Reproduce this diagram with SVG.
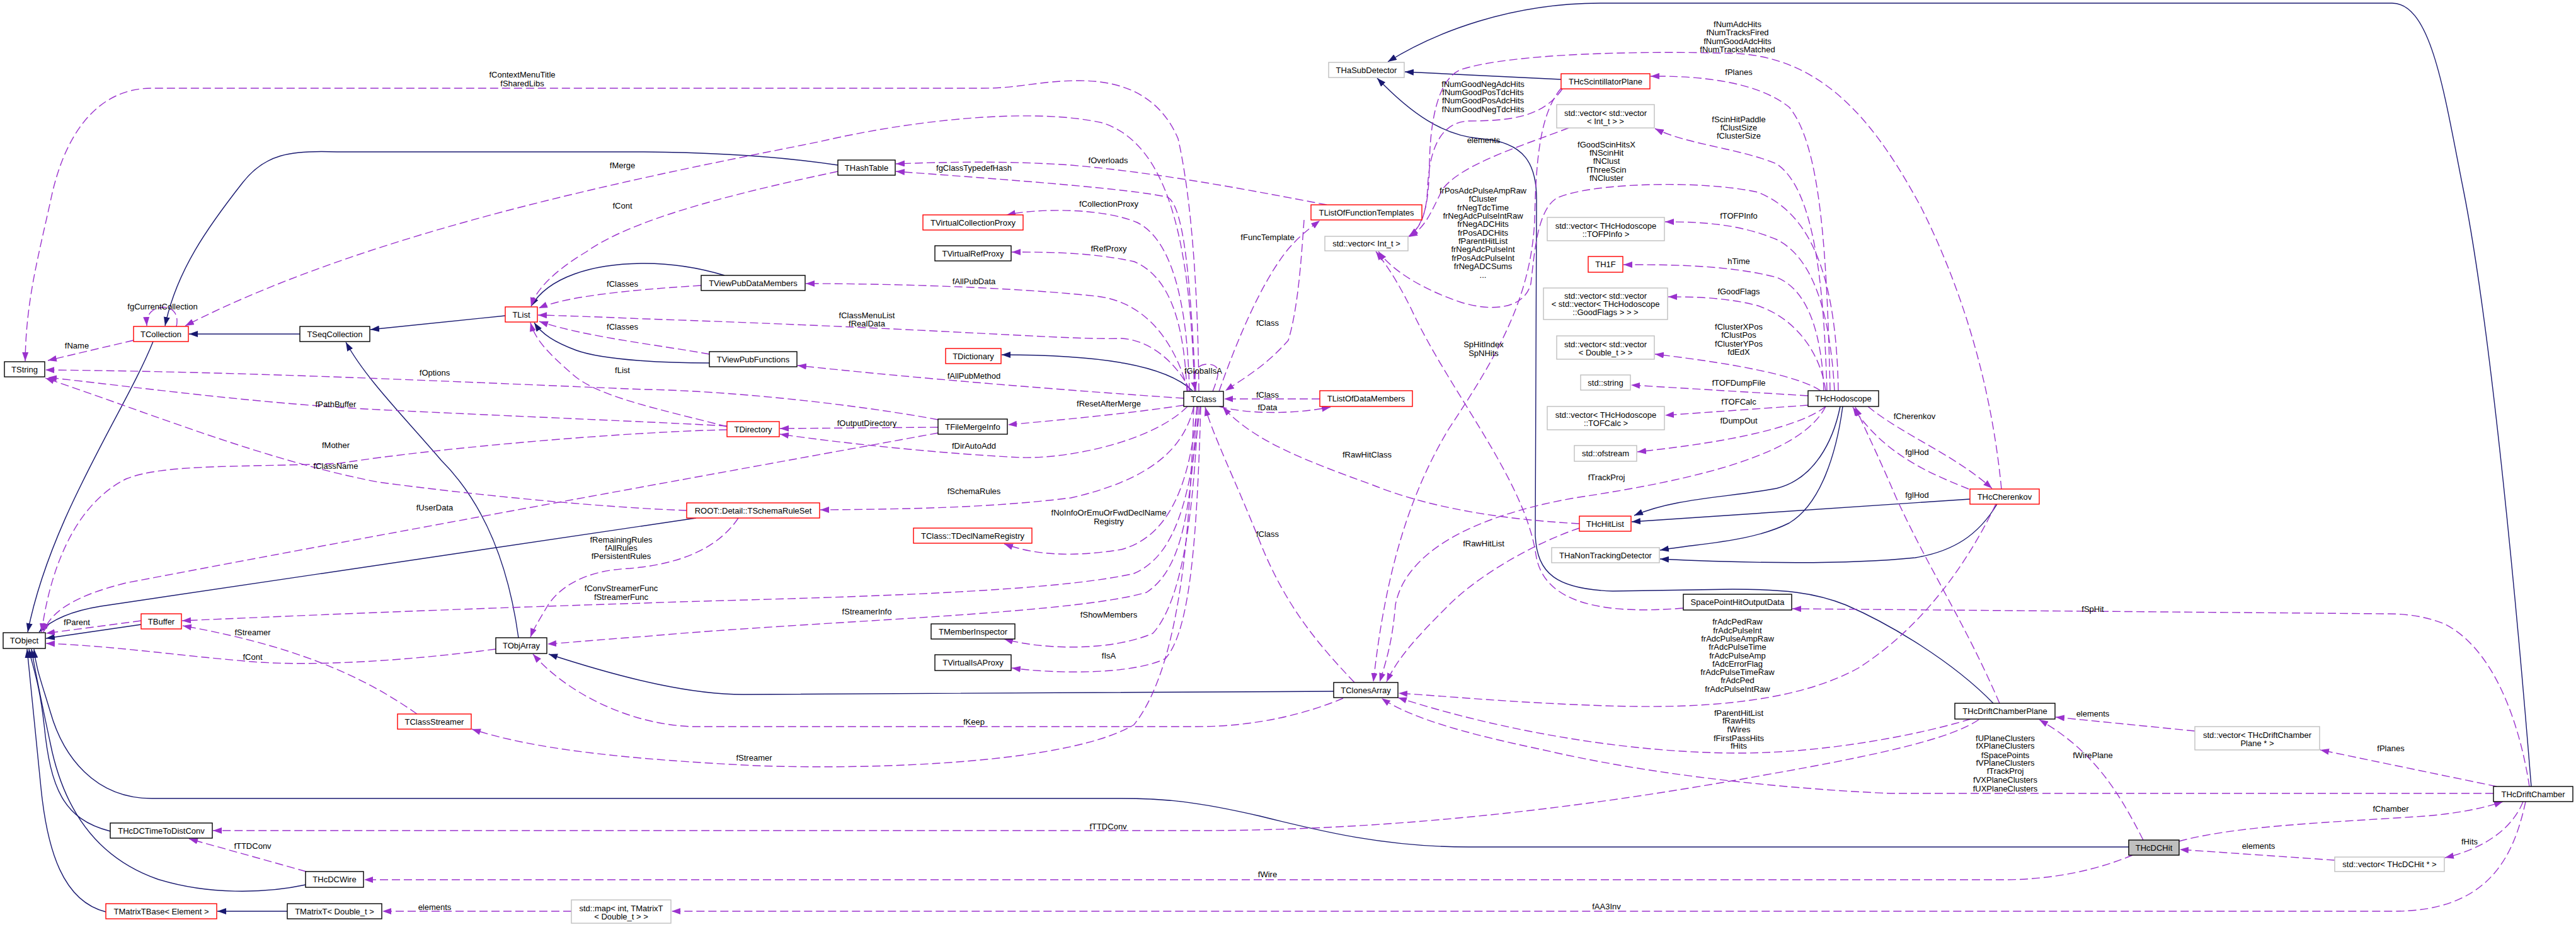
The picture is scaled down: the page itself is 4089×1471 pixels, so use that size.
<svg xmlns="http://www.w3.org/2000/svg" width="4089" height="1471" viewBox="0 0 4089 1471">
<defs>
<marker id="ap" viewBox="0 0 14 10" refX="14" refY="5" markerWidth="14" markerHeight="10" markerUnits="userSpaceOnUse" orient="auto"><path d="M0,0 L14,5 L0,10 z" fill="#9a32cd" stroke="none"/></marker>
<marker id="ab" viewBox="0 0 14 10" refX="14" refY="5" markerWidth="14" markerHeight="10" markerUnits="userSpaceOnUse" orient="auto"><path d="M0,0 L14,5 L0,10 z" fill="#191970" stroke="none"/></marker>
<style>
text{font-family:"Liberation Sans",Arial,Helvetica,sans-serif;font-size:13px;fill:#000;text-anchor:middle}
rect{stroke-width:1.4}
.k{fill:#fff;stroke:#000}
.r{fill:#fff;stroke:#ff0000}
.g{fill:#fff;stroke:#bfbfbf}
.s{fill:#bfbfbf;stroke:#000}
.u{fill:none;stroke:#9a32cd;stroke-width:1.4;stroke-dasharray:13,6;marker-end:url(#ap)}
.h{fill:none;stroke:#191970;stroke-width:1.4;marker-end:url(#ab)}
</style>
</defs>
<rect x="0" y="0" width="4089" height="1471" fill="#fff"/>
<g id="connectors">
<path class="h" d="M243,542 C200,650 80,820 44,1003"/>
<path class="h" d="M1330,262 C1250,250 1150,242 1022,241 L535,241 C460,238 420,245 385,290 C330,360 280,430 262,517"/>
<path class="h" d="M476,530 L300,530"/>
<path class="h" d="M802,501 L588,523"/>
<path class="h" d="M1150,437 C1100,422 1060,418 1023,418 C940,418 870,440 843,486"/>
<path class="h" d="M1126,576 C1060,576 960,572 915,556 C880,543 860,530 848,512"/>
<path class="h" d="M823,1012 C805,880 760,790 700,730 C640,660 580,600 549,543"/>
<path class="h" d="M224,991 L73,1013"/>
<path class="h" d="M1105,822 L160,962 C110,970 80,985 62,1003"/>
<path class="h" d="M2117,1097 L1180,1102 C1100,1102 1000,1080 871,1038"/>
<path class="h" d="M1893,620 C1850,580 1750,563 1590,563"/>
<path class="h" d="M175,1319 C100,1300 80,1250 70,1150 C62,1080 52,1060 46,1030"/>
<path class="h" d="M485,1404 C420,1418 330,1420 250,1395 C150,1360 100,1280 80,1180 C65,1110 55,1060 50,1030"/>
<path class="h" d="M168,1447 C100,1430 75,1350 65,1250 C55,1150 48,1080 43,1030"/>
<path class="h" d="M456,1446 L345,1446"/>
<path class="h" d="M3379,1344 L2331,1344 C2200,1344 2100,1320 2000,1295 C1900,1272 1850,1267 1779,1267 L241,1267 C150,1267 100,1200 80,1130 C65,1080 57,1060 54,1030"/>
<path class="h" d="M2921,645 C2910,700 2880,760 2820,775 C2740,790 2660,790 2594,818"/>
<path class="h" d="M2925,645 C2915,720 2890,800 2840,830 C2780,860 2700,862 2635,873"/>
<path class="h" d="M3127,792 L2590,828"/>
<path class="h" d="M3170,800 C3140,850 3100,875 3040,885 C2920,897 2760,893 2635,887"/>
<path class="h" d="M2478,126 L2230,114"/>
<path class="h" d="M3164,1116 C3100,1050 3000,990 2930,960 C2880,940 2830,935 2750,935 L2560,938 C2470,935 2440,910 2437,850 L2439,320 C2440,260 2420,225 2350,220 C2290,215 2240,180 2186,124"/>
<path class="h" d="M4018,1248 C3990,900 3950,500 3910,300 C3880,150 3860,5 3797,5 L2540,5 C2400,5 2280,50 2203,98"/>

<path class="u" d="M212,540 L76,572"/>
<path class="u" d="M1903,621 C1902,500 1895,330 1870,220 C1840,150 1780,128 1713,128 C1650,128 1620,140 1560,140 L241,140 C150,140 100,220 80,320 C60,410 41,480 40,573"/>
<path class="u" d="M1489,666 C1350,640 1150,620 1023,618 C700,605 400,590 72,587"/>
<path class="u" d="M1154,676 C1050,670 800,660 600,650 C400,640 200,612 76,599"/>
<path class="u" d="M1090,810 C950,805 750,785 600,765 C420,730 250,660 72,600"/>
<path class="u" d="M1154,682 C1000,685 700,710 540,735 C400,742 260,735 200,760 C120,800 80,900 66,1003"/>
<path class="u" d="M1489,687 C1200,740 700,830 200,925 C120,945 80,970 69,1003"/>
<path class="u" d="M1172,822 C1140,870 1080,895 1000,902 C930,905 890,930 870,960 C855,985 846,1000 842,1011"/>
<path class="u" d="M1905,645 C1890,780 1870,880 1800,910 C1650,945 1200,950 1023,957 C700,967 450,978 289,985"/>
<path class="u" d="M1900,645 C1890,800 1880,900 1820,940 C1700,975 1300,985 1023,1010 C950,1015 900,1020 869,1022"/>
<path class="u" d="M787,1030 C650,1048 500,1058 400,1050 C280,1040 180,1025 73,1021"/>
<path class="u" d="M662,1133 C600,1090 500,1030 290,993"/>
<path class="u" d="M224,985 L73,1005"/>
<path class="u" d="M1895,645 C1890,800 1880,1050 1800,1150 C1700,1210 1400,1222 1200,1215 C1000,1205 850,1190 749,1157"/>
<path class="u" d="M2132,1108 C2080,1130 2000,1153 1900,1153 L1100,1153 C1000,1150 900,1100 846,1038"/>
<path class="u" d="M486,1383 L300,1331"/>
<path class="u" d="M3141,1142 C3100,1170 3000,1195 2800,1230 C2500,1285 2200,1318 1900,1318 L338,1318"/>
<path class="u" d="M3385,1357 C3330,1380 3260,1396 3180,1396 L578,1396"/>
<path class="u" d="M4009,1272 C3990,1360 3950,1446 3800,1446 L1066,1446"/>
<path class="u" d="M907,1446 L607,1446"/>
<path class="u" d="M1935,621 C1960,550 2000,450 2045,395 C2065,372 2082,360 2095,350"/>
<path class="u" d="M2070,349 C2065,420 2060,490 2045,540 C2010,580 1975,600 1945,620"/>
<path class="u" d="M2106,325 C2000,305 1850,275 1700,262 C1600,255 1500,257 1422,260"/>
<path class="u" d="M1898,621 C1890,450 1880,330 1854,313 C1800,300 1600,285 1422,272"/>
<path class="u" d="M1896,621 C1890,400 1860,230 1750,195 C1640,170 1450,190 1300,225 C1050,275 600,360 294,517"/>
<path class="u" d="M1330,272 C1150,310 1000,350 930,400 C880,430 850,460 843,486"/>
<path class="u" d="M280,518 C285,495 270,485 255,488 C240,490 232,500 233,517"/>
<path class="u" d="M1113,453 C1000,460 900,470 855,489"/>
<path class="u" d="M1126,562 C1050,548 930,535 856,510"/>
<path class="u" d="M1890,621 C1870,580 1830,540 1780,537 C1700,540 1500,522 1023,506 C950,503 900,501 854,500"/>
<path class="u" d="M1154,677 C1050,650 950,630 910,595 C870,560 850,540 842,512"/>
<path class="u" d="M1886,621 C1870,560 1830,480 1740,470 C1600,455 1400,450 1279,450"/>
<path class="u" d="M1879,632 C1700,620 1450,600 1266,580"/>
<path class="u" d="M1888,621 C1885,480 1860,380 1805,353 C1750,330 1650,330 1598,341"/>
<path class="u" d="M1884,621 C1880,520 1860,440 1800,415 C1730,400 1660,400 1606,400"/>
<path class="u" d="M1879,643 C1800,655 1700,665 1600,674"/>
<path class="u" d="M1489,678 L1238,680"/>
<path class="u" d="M1885,645 C1830,700 1700,728 1620,726 C1500,720 1350,705 1238,689"/>
<path class="u" d="M1895,645 C1880,710 1830,760 1700,790 C1580,805 1450,808 1302,809"/>
<path class="u" d="M1900,645 C1890,760 1860,850 1780,872 C1700,885 1640,880 1594,863"/>
<path class="u" d="M1902,645 C1895,800 1880,950 1830,1005 C1760,1035 1650,1030 1594,1014"/>
<path class="u" d="M1906,645 C1900,850 1890,1000 1850,1045 C1800,1070 1680,1070 1606,1060"/>
<path class="u" d="M1925,621 C1935,595 1940,578 1916,578 C1895,578 1894,600 1898,620"/>
<path class="u" d="M2095,633 L1943,633"/>
<path class="u" d="M1935,645 C1980,657 2050,658 2112,646"/>
<path class="u" d="M2150,1083 C2090,1020 2040,960 2000,860 C1960,760 1925,690 1913,646"/>
<path class="u" d="M2507,831 C2400,825 2280,810 2180,770 C2070,730 1990,700 1941,646"/>
<path class="u" d="M2507,838 C2440,860 2350,910 2300,960 C2260,1000 2220,1040 2201,1082"/>
<path class="u" d="M2898,645 C2860,720 2700,760 2500,790 C2330,820 2230,880 2215,960 C2210,1020 2200,1050 2190,1082"/>
<path class="u" d="M2478,140 C2445,180 2438,250 2436,350 C2430,470 2380,560 2300,680 C2240,780 2200,900 2180,1082"/>
<path class="u" d="M2480,141 C2450,185 2400,192 2330,192 C2280,195 2268,250 2266,300 C2264,340 2255,362 2236,375"/>
<path class="u" d="M3177,776 C3160,600 3110,450 3050,330 C2980,200 2900,95 2760,85 C2600,80 2400,85 2320,110 C2280,125 2270,200 2269,260 C2268,320 2262,355 2237,375"/>
<path class="u" d="M2490,203 C2420,230 2320,260 2290,300 C2270,340 2262,362 2236,376"/>
<path class="u" d="M2918,620 C2915,450 2880,340 2790,305 C2700,285 2520,290 2470,315 C2440,335 2436,400 2430,450 C2420,490 2370,495 2320,480 C2260,460 2210,430 2188,399"/>
<path class="u" d="M2672,965 C2550,975 2450,960 2438,880 C2420,760 2300,620 2240,490 C2215,440 2200,420 2184,399"/>
<path class="u" d="M4015,1248 C4000,1150 3960,1030 3880,990 C3850,978 3820,974 3790,974 L2845,966"/>
<path class="u" d="M2905,620 C2900,400 2890,230 2840,170 C2790,130 2700,120 2620,121"/>
<path class="u" d="M2900,620 C2895,450 2880,300 2820,260 C2760,235 2680,230 2627,204"/>
<path class="u" d="M2912,620 C2905,500 2880,410 2820,380 C2760,355 2700,352 2643,352"/>
<path class="u" d="M2895,620 C2892,530 2870,460 2820,440 C2740,420 2650,420 2577,420"/>
<path class="u" d="M2898,620 C2890,560 2850,505 2790,485 C2740,472 2690,471 2648,471"/>
<path class="u" d="M2890,620 C2860,600 2780,580 2627,562"/>
<path class="u" d="M2870,628 L2589,611"/>
<path class="u" d="M2870,643 L2643,659"/>
<path class="u" d="M2898,645 C2860,675 2760,700 2599,717"/>
<path class="u" d="M3125,776 C3060,750 2990,720 2941,646"/>
<path class="u" d="M2965,645 C3020,690 3100,720 3162,775"/>
<path class="u" d="M3174,1116 C3120,990 3060,900 3010,790 C2980,720 2960,680 2945,646"/>
<path class="u" d="M3168,800 C3130,880 3060,990 2950,1060 C2850,1115 2700,1125 2550,1120 C2400,1115 2300,1105 2220,1100"/>
<path class="u" d="M3128,1141 C3050,1165 2900,1195 2760,1195 C2600,1195 2400,1165 2219,1107"/>
<path class="u" d="M3958,1259 L3000,1259 C2800,1250 2600,1225 2450,1190 C2330,1165 2240,1140 2193,1108"/>
<path class="u" d="M3963,1248 L3683,1190"/>
<path class="u" d="M3484,1160 L3263,1138"/>
<path class="u" d="M3402,1333 C3360,1250 3320,1190 3237,1142"/>
<path class="u" d="M3459,1335 C3550,1310 3700,1305 3850,1295 C3910,1290 3950,1280 3973,1272"/>
<path class="u" d="M3706,1365 L3460,1348"/>
<path class="u" d="M4005,1272 C3990,1310 3950,1345 3881,1361"/>

<text x="122" y="553">fName</text>
<text x="829" y="123">fContextMenuTitle</text>
<text x="829" y="137">fSharedLibs</text>
<text x="690" y="596">fOptions</text>
<text x="533" y="646">fPathBuffer</text>
<text x="533" y="711">fMother</text>
<text x="533" y="744">fClassName</text>
<text x="690" y="810">fUserData</text>
<text x="986" y="861">fRemainingRules</text>
<text x="986" y="874">fAllRules</text>
<text x="986" y="887">fPersistentRules</text>
<text x="986" y="938">fConvStreamerFunc</text>
<text x="986" y="952">fStreamerFunc</text>
<text x="988" y="592">fList</text>
<text x="988" y="523">fClasses</text>
<text x="988" y="267">fMerge</text>
<text x="988" y="331">fCont</text>
<text x="988" y="455">fClasses</text>
<text x="258" y="491">fgCurrentCollection</text>
<text x="1759" y="259">fOverloads</text>
<text x="1546" y="271">fgClassTypedefHash</text>
<text x="1760" y="328">fCollectionProxy</text>
<text x="1760" y="399">fRefProxy</text>
<text x="1546" y="451">fAllPubData</text>
<text x="2012" y="381">fFuncTemplate</text>
<text x="1376" y="505">fClassMenuList</text>
<text x="1376" y="518">fRealData</text>
<text x="2012" y="517">fClass</text>
<text x="1910" y="593">fGlobalIsA</text>
<text x="1546" y="601">fAllPubMethod</text>
<text x="2012" y="631">fClass</text>
<text x="2012" y="651">fData</text>
<text x="1760" y="645">fResetAfterMerge</text>
<text x="1376" y="676">fOutputDirectory</text>
<text x="1546" y="712">fDirAutoAdd</text>
<text x="1546" y="784">fSchemaRules</text>
<text x="1760" y="818">fNoInfoOrEmuOrFwdDeclName</text>
<text x="1760" y="832">Registry</text>
<text x="2012" y="852">fClass</text>
<text x="1376" y="975">fStreamerInfo</text>
<text x="1760" y="980">fShowMembers</text>
<text x="1760" y="1045">fIsA</text>
<text x="1546" y="1150">fKeep</text>
<text x="1197" y="1207">fStreamer</text>
<text x="1759" y="1316">fTTDConv</text>
<text x="2012" y="1392">fWire</text>
<text x="122" y="992">fParent</text>
<text x="401" y="1008">fStreamer</text>
<text x="401" y="1047">fCont</text>
<text x="401" y="1347">fTTDConv</text>
<text x="690" y="1444">elements</text>
<text x="2550" y="1443">fAA3Inv</text>
<text x="2758" y="43">fNumAdcHits</text>
<text x="2758" y="56">fNumTracksFired</text>
<text x="2758" y="70">fNumGoodAdcHits</text>
<text x="2758" y="83">fNumTracksMatched</text>
<text x="2760" y="119">fPlanes</text>
<text x="2354" y="138">fNumGoodNegAdcHits</text>
<text x="2354" y="151">fNumGoodPosTdcHits</text>
<text x="2354" y="164">fNumGoodPosAdcHits</text>
<text x="2354" y="178">fNumGoodNegTdcHits</text>
<text x="2355" y="227">elements</text>
<text x="2760" y="194">fScinHitPaddle</text>
<text x="2760" y="207">fClustSize</text>
<text x="2760" y="220">fClusterSize</text>
<text x="2550" y="234">fGoodScinHitsX</text>
<text x="2550" y="247">fNScinHit</text>
<text x="2550" y="260">fNClust</text>
<text x="2550" y="274">fThreeScin</text>
<text x="2550" y="287">fNCluster</text>
<text x="2354" y="307">frPosAdcPulseAmpRaw</text>
<text x="2354" y="320">fCluster</text>
<text x="2354" y="334">frNegTdcTime</text>
<text x="2354" y="347">frNegAdcPulseIntRaw</text>
<text x="2354" y="360">frNegADCHits</text>
<text x="2354" y="374">frPosADCHits</text>
<text x="2354" y="387">fParentHitList</text>
<text x="2354" y="400">frNegAdcPulseInt</text>
<text x="2354" y="414">frPosAdcPulseInt</text>
<text x="2354" y="427">frNegADCSums</text>
<text x="2354" y="441">...</text>
<text x="2760" y="347">fTOFPInfo</text>
<text x="2760" y="419">hTime</text>
<text x="2760" y="467">fGoodFlags</text>
<text x="2760" y="523">fClusterXPos</text>
<text x="2760" y="536">fClustPos</text>
<text x="2760" y="550">fClusterYPos</text>
<text x="2760" y="563">fdEdX</text>
<text x="2760" y="612">fTOFDumpFile</text>
<text x="2760" y="642">fTOFCalc</text>
<text x="2760" y="672">fDumpOut</text>
<text x="3039" y="665">fCherenkov</text>
<text x="3043" y="722">fglHod</text>
<text x="3043" y="790">fglHod</text>
<text x="2170" y="726">fRawHitClass</text>
<text x="2550" y="762">fTrackProj</text>
<text x="2355" y="551">SpHitIndex</text>
<text x="2355" y="565">SpNHits</text>
<text x="2355" y="867">fRawHitList</text>
<text x="3322" y="971">fSpHit</text>
<text x="2758" y="991">frAdcPedRaw</text>
<text x="2758" y="1005">frAdcPulseInt</text>
<text x="2758" y="1018">frAdcPulseAmpRaw</text>
<text x="2758" y="1031">frAdcPulseTime</text>
<text x="2758" y="1045">frAdcPulseAmp</text>
<text x="2758" y="1058">fAdcErrorFlag</text>
<text x="2758" y="1071">frAdcPulseTimeRaw</text>
<text x="2758" y="1084">frAdcPed</text>
<text x="2758" y="1098">frAdcPulseIntRaw</text>
<text x="2760" y="1136">fParentHitList</text>
<text x="2760" y="1148">fRawHits</text>
<text x="2760" y="1162">fWires</text>
<text x="2760" y="1176">fFirstPassHits</text>
<text x="2760" y="1188">fHits</text>
<text x="3322" y="1137">elements</text>
<text x="3183" y="1176">fUPlaneClusters</text>
<text x="3183" y="1188">fXPlaneClusters</text>
<text x="3183" y="1203">fSpacePoints</text>
<text x="3183" y="1215">fVPlaneClusters</text>
<text x="3183" y="1228">fTrackProj</text>
<text x="3183" y="1242">fVXPlaneClusters</text>
<text x="3183" y="1256">fUXPlaneClusters</text>
<text x="3322" y="1203">fWirePlane</text>
<text x="3795" y="1192">fPlanes</text>
<text x="3795" y="1288">fChamber</text>
<text x="3585" y="1347">elements</text>
<text x="3920" y="1340">fHits</text>
</g>

<g id="n-TString"><rect class="k" x="7" y="574" width="64" height="24"/><text x="39" y="590.5">TString</text></g>
<g id="n-TCollection"><rect class="r" x="212" y="518" width="87" height="24"/><text x="255.5" y="534.5">TCollection</text></g>
<g id="n-TSeqCollection"><rect class="k" x="476" y="518" width="111" height="24"/><text x="531.5" y="534.5">TSeqCollection</text></g>
<g id="n-TList"><rect class="r" x="802" y="487" width="51" height="24"/><text x="827.5" y="503.5">TList</text></g>
<g id="n-TObject"><rect class="k" x="5" y="1004" width="67" height="25"/><text x="38.5" y="1021">TObject</text></g>
<g id="n-TBuffer"><rect class="r" x="224" y="974" width="64" height="24"/><text x="256" y="990.5">TBuffer</text></g>
<g id="n-TObjArray"><rect class="k" x="787" y="1012" width="81" height="25"/><text x="827.5" y="1029">TObjArray</text></g>
<g id="n-TClassStreamer"><rect class="r" x="631" y="1133" width="117" height="24"/><text x="689.5" y="1149.5">TClassStreamer</text></g>
<g id="n-THcDCTimeToDistConv"><rect class="k" x="175" y="1306" width="162" height="24"/><text x="256" y="1322.5">THcDCTimeToDistConv</text></g>
<g id="n-THcDCWire"><rect class="k" x="485" y="1383" width="92" height="25"/><text x="531" y="1400">THcDCWire</text></g>
<g id="n-TMatrixTBase"><rect class="r" x="168" y="1434" width="176" height="24"/><text x="256" y="1450.5">TMatrixTBase&lt; Element &gt;</text></g>
<g id="n-TMatrixT"><rect class="k" x="456" y="1434" width="150" height="24"/><text x="531" y="1450.5">TMatrixT&lt; Double_t &gt;</text></g>
<g id="n-stdmap"><rect class="g" x="907" y="1428" width="158" height="37"/><text x="986" y="1445.5">std::map&lt; int, TMatrixT</text><text x="986" y="1458.8">&lt; Double_t &gt; &gt;</text></g>
<g id="n-THashTable"><rect class="k" x="1330" y="254" width="91" height="24"/><text x="1375.5" y="270.5">THashTable</text></g>
<g id="n-TVirtualCollectionProxy"><rect class="r" x="1465" y="341" width="159" height="24"/><text x="1544.5" y="357.5">TVirtualCollectionProxy</text></g>
<g id="n-TVirtualRefProxy"><rect class="k" x="1484" y="390" width="121" height="24"/><text x="1544.5" y="406.5">TVirtualRefProxy</text></g>
<g id="n-TViewPubDataMembers"><rect class="k" x="1113" y="437" width="165" height="24"/><text x="1195.5" y="453.5">TViewPubDataMembers</text></g>
<g id="n-TViewPubFunctions"><rect class="k" x="1126" y="558" width="139" height="24"/><text x="1195.5" y="574.5">TViewPubFunctions</text></g>
<g id="n-TDictionary"><rect class="r" x="1501" y="553" width="88" height="24"/><text x="1545" y="569.5">TDictionary</text></g>
<g id="n-TClass"><rect class="k" x="1879" y="621" width="63" height="24"/><text x="1910.5" y="637.5">TClass</text></g>
<g id="n-TDirectory"><rect class="r" x="1154" y="669" width="83" height="24"/><text x="1195.5" y="685.5">TDirectory</text></g>
<g id="n-TFileMergeInfo"><rect class="k" x="1489" y="665" width="110" height="24"/><text x="1544" y="681.5">TFileMergeInfo</text></g>
<g id="n-TSchemaRuleSet"><rect class="r" x="1090" y="798" width="211" height="24"/><text x="1195.5" y="814.5">ROOT::Detail::TSchemaRuleSet</text></g>
<g id="n-TDeclNameRegistry"><rect class="r" x="1450" y="838" width="188" height="24"/><text x="1544" y="854.5">TClass::TDeclNameRegistry</text></g>
<g id="n-TMemberInspector"><rect class="k" x="1478" y="990" width="133" height="24"/><text x="1544.5" y="1006.5">TMemberInspector</text></g>
<g id="n-TVirtualIsAProxy"><rect class="k" x="1484" y="1039" width="121" height="25"/><text x="1544.5" y="1056">TVirtualIsAProxy</text></g>
<g id="n-TListOfFunctionTemplates"><rect class="r" x="2081" y="325" width="176" height="24"/><text x="2169" y="341.5">TListOfFunctionTemplates</text></g>
<g id="n-vecInt"><rect class="g" x="2103" y="375" width="132" height="23"/><text x="2169" y="391">std::vector&lt; Int_t &gt;</text></g>
<g id="n-THaSubDetector"><rect class="g" x="2109" y="99" width="120" height="24"/><text x="2169" y="115.5">THaSubDetector</text></g>
<g id="n-THcScintillatorPlane"><rect class="r" x="2478" y="117" width="141" height="24"/><text x="2548.5" y="133.5">THcScintillatorPlane</text></g>
<g id="n-vecvecInt"><rect class="g" x="2471" y="166" width="155" height="37"/><text x="2548.5" y="183.5">std::vector&lt; std::vector</text><text x="2548.5" y="196.8">&lt; Int_t &gt; &gt;</text></g>
<g id="n-vecTOFPInfo"><rect class="g" x="2456" y="345" width="186" height="37"/><text x="2549" y="362.5">std::vector&lt; THcHodoscope</text><text x="2549" y="375.8">::TOFPInfo &gt;</text></g>
<g id="n-TH1F"><rect class="r" x="2521" y="407" width="55" height="25"/><text x="2548.5" y="424">TH1F</text></g>
<g id="n-vecGoodFlags"><rect class="g" x="2450" y="457" width="197" height="50"/><text x="2548.5" y="473.5">std::vector&lt; std::vector</text><text x="2548.5" y="486.8">&lt; std::vector&lt; THcHodoscope</text><text x="2548.5" y="500.1">::GoodFlags &gt; &gt; &gt;</text></g>
<g id="n-TListOfDataMembers"><rect class="r" x="2095" y="620" width="147" height="25"/><text x="2168.5" y="637">TListOfDataMembers</text></g>
<g id="n-vecvecDouble"><rect class="g" x="2471" y="533" width="155" height="37"/><text x="2548.5" y="550.5">std::vector&lt; std::vector</text><text x="2548.5" y="563.8">&lt; Double_t &gt; &gt;</text></g>
<g id="n-stdstring"><rect class="g" x="2509" y="595" width="79" height="24"/><text x="2548.5" y="611.5">std::string</text></g>
<g id="n-vecTOFCalc"><rect class="g" x="2456" y="645" width="186" height="37"/><text x="2549" y="662.5">std::vector&lt; THcHodoscope</text><text x="2549" y="675.8">::TOFCalc &gt;</text></g>
<g id="n-ofstream"><rect class="g" x="2499" y="707" width="99" height="25"/><text x="2548.5" y="724">std::ofstream</text></g>
<g id="n-THcHodoscope"><rect class="k" x="2870" y="620" width="112" height="25"/><text x="2926" y="637">THcHodoscope</text></g>
<g id="n-THcHitList"><rect class="r" x="2507" y="819" width="82" height="24"/><text x="2548" y="835.5">THcHitList</text></g>
<g id="n-THaNonTrackingDetector"><rect class="g" x="2463" y="869" width="171" height="24"/><text x="2548.5" y="885.5">THaNonTrackingDetector</text></g>
<g id="n-SpacePointHitOutputData"><rect class="k" x="2672" y="943" width="172" height="25"/><text x="2758" y="960">SpacePointHitOutputData</text></g>
<g id="n-THcCherenkov"><rect class="r" x="3127" y="776" width="110" height="24"/><text x="3182" y="792.5">THcCherenkov</text></g>
<g id="n-TClonesArray"><rect class="k" x="2117" y="1083" width="102" height="24"/><text x="2168" y="1099.5">TClonesArray</text></g>
<g id="n-THcDriftChamberPlane"><rect class="k" x="3103" y="1116" width="159" height="25"/><text x="3182.5" y="1133">THcDriftChamberPlane</text></g>
<g id="n-vecDCPlane"><rect class="g" x="3484" y="1153" width="198" height="37"/><text x="3583" y="1170.5">std::vector&lt; THcDriftChamber</text><text x="3583" y="1183.8">Plane * &gt;</text></g>
<g id="n-THcDriftChamber"><rect class="k" x="3958" y="1248" width="126" height="24"/><text x="4021" y="1264.5">THcDriftChamber</text></g>
<g id="n-THcDCHit"><rect class="s" x="3379" y="1333" width="80" height="24"/><text x="3419" y="1349.5">THcDCHit</text></g>
<g id="n-vecDCHit"><rect class="g" x="3706" y="1360" width="174" height="23"/><text x="3793" y="1376">std::vector&lt; THcDCHit * &gt;</text></g>
</svg>
